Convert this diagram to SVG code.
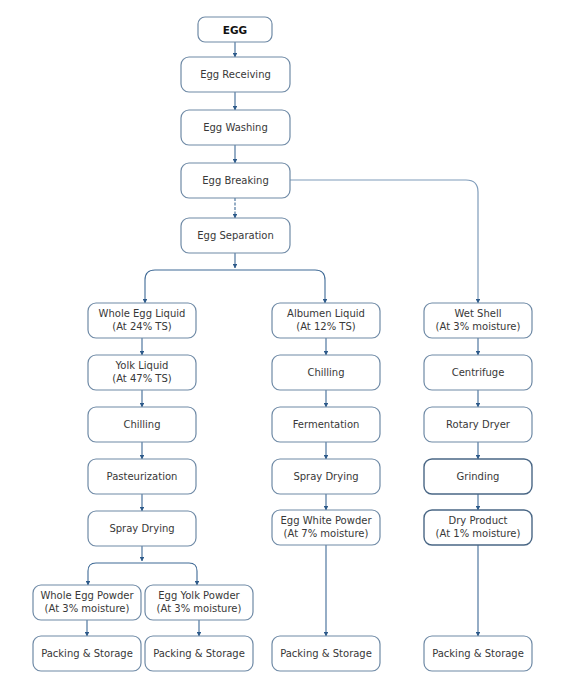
<svg xmlns="http://www.w3.org/2000/svg" width="570" height="692" viewBox="0 0 570 692">
<defs>
<style>
.n rect{fill:#fff;stroke:#6f8aa6;stroke-width:1.2}
.n.d rect{stroke:#4a6785;stroke-width:1.4}
.n text{font-family:"DejaVu Sans",Verdana,sans-serif;font-size:10px;fill:#383838;text-anchor:middle}
.n text.b{font-weight:bold;font-size:10.5px;fill:#111}
.c path{fill:none;stroke:#3f6a96;stroke-width:1.1;marker-end:url(#ah)}
.c path.l{stroke:#7f9cba;stroke-width:1.2}
.c path.s{stroke-dasharray:3,1.5}
</style>
<marker id="ah" viewBox="0 0 6 6" refX="5.5" refY="3" markerWidth="4.5" markerHeight="4.5" orient="auto" markerUnits="userSpaceOnUse">
<path d="M0,0 L6,3 L0,6 z" fill="#2d5a8a"/>
</marker>
</defs>
<rect width="570" height="692" fill="#fff"/>
<g class="c" id="connectors">
<path d="M235,42 V57"/>
<path d="M235,92 V110"/>
<path d="M235,145 V163"/>
<path class="s" d="M235,198 V218"/>
<path class="l" d="M290,180 H466 Q478,180 478,192 V303"/>
<path d="M235,253 V268"/>
<path d="M235,270 H155 Q145,270 145,280 V303"/>
<path d="M235,270 H315 Q325,270 325,280 V303"/>
<path d="M142,338 V355"/>
<path d="M142,390 V407"/>
<path d="M142,442 V459"/>
<path d="M142,494 V511"/>
<path d="M142,546 V561"/>
<path d="M142,563 H96 Q88,563 88,571 V585"/>
<path d="M142,563 H189 Q197,563 197,571 V585"/>
<path d="M87,620 V636"/>
<path d="M199,620 V636"/>
<path d="M326,338 V355"/>
<path d="M326,390 V407"/>
<path d="M326,442 V459"/>
<path d="M326,494 V510"/>
<path d="M326,545 V636"/>
<path d="M478,338 V355"/>
<path d="M478,390 V407"/>
<path d="M478,442 V459"/>
<path d="M478,494 V510"/>
<path d="M478,545 V636"/>
</g>
<g class="n" id="egg"><rect x="198" y="17" width="74" height="25" rx="7"/><text class="b" x="235" y="33.5">EGG</text></g>
<g class="n" id="receiving"><rect x="181" y="57" width="109" height="35" rx="8"/><text x="235.5" y="78">Egg Receiving</text></g>
<g class="n" id="washing"><rect x="181" y="110" width="109" height="35" rx="8"/><text x="235.5" y="131">Egg Washing</text></g>
<g class="n" id="breaking"><rect x="181" y="163" width="109" height="35" rx="8"/><text x="235.5" y="184">Egg Breaking</text></g>
<g class="n" id="separation"><rect x="181" y="218" width="109" height="35" rx="8"/><text x="235.5" y="239">Egg Separation</text></g>
<g class="n" id="whole-liquid"><rect x="88" y="303" width="108" height="35" rx="8"/><text x="142" y="317">Whole Egg Liquid</text><text x="142" y="330">(At 24% TS)</text></g>
<g class="n" id="yolk-liquid"><rect x="88" y="355" width="108" height="35" rx="8"/><text x="142" y="369">Yolk Liquid</text><text x="142" y="382">(At 47% TS)</text></g>
<g class="n" id="chilling-l"><rect x="88" y="407" width="108" height="35" rx="8"/><text x="142" y="428">Chilling</text></g>
<g class="n" id="pasteurization"><rect x="88" y="459" width="108" height="35" rx="8"/><text x="142" y="480">Pasteurization</text></g>
<g class="n" id="spray-l"><rect x="88" y="511" width="108" height="35" rx="8"/><text x="142" y="532">Spray Drying</text></g>
<g class="n" id="whole-powder"><rect x="33" y="585" width="108" height="35" rx="8"/><text x="87" y="599">Whole Egg Powder</text><text x="87" y="612">(At 3% moisture)</text></g>
<g class="n" id="yolk-powder"><rect x="145" y="585" width="108" height="35" rx="8"/><text x="199" y="599">Egg Yolk Powder</text><text x="199" y="612">(At 3% moisture)</text></g>
<g class="n" id="pack-1"><rect x="33" y="636" width="108" height="35" rx="8"/><text x="87" y="657">Packing &amp; Storage</text></g>
<g class="n" id="pack-2"><rect x="145" y="636" width="108" height="35" rx="8"/><text x="199" y="657">Packing &amp; Storage</text></g>
<g class="n" id="albumen"><rect x="272" y="303" width="108" height="35" rx="8"/><text x="326" y="317">Albumen Liquid</text><text x="326" y="330">(At 12% TS)</text></g>
<g class="n" id="chilling-m"><rect x="272" y="355" width="108" height="35" rx="8"/><text x="326" y="376">Chilling</text></g>
<g class="n" id="fermentation"><rect x="272" y="407" width="108" height="35" rx="8"/><text x="326" y="428">Fermentation</text></g>
<g class="n" id="spray-m"><rect x="272" y="459" width="108" height="35" rx="8"/><text x="326" y="480">Spray Drying</text></g>
<g class="n" id="white-powder"><rect x="272" y="510" width="108" height="35" rx="8"/><text x="326" y="524">Egg White Powder</text><text x="326" y="537">(At 7% moisture)</text></g>
<g class="n" id="pack-3"><rect x="272" y="636" width="108" height="35" rx="8"/><text x="326" y="657">Packing &amp; Storage</text></g>
<g class="n" id="wet-shell"><rect x="424" y="303" width="108" height="35" rx="8"/><text x="478" y="317">Wet Shell</text><text x="478" y="330">(At 3% moisture)</text></g>
<g class="n" id="centrifuge"><rect x="424" y="355" width="108" height="35" rx="8"/><text x="478" y="376">Centrifuge</text></g>
<g class="n" id="rotary"><rect x="424" y="407" width="108" height="35" rx="8"/><text x="478" y="428">Rotary Dryer</text></g>
<g class="n d" id="grinding"><rect x="424" y="459" width="108" height="35" rx="8"/><text x="478" y="480">Grinding</text></g>
<g class="n d" id="dry-product"><rect x="424" y="510" width="108" height="35" rx="8"/><text x="478" y="524">Dry Product</text><text x="478" y="537">(At 1% moisture)</text></g>
<g class="n" id="pack-4"><rect x="424" y="636" width="108" height="35" rx="8"/><text x="478" y="657">Packing &amp; Storage</text></g>
</svg>
